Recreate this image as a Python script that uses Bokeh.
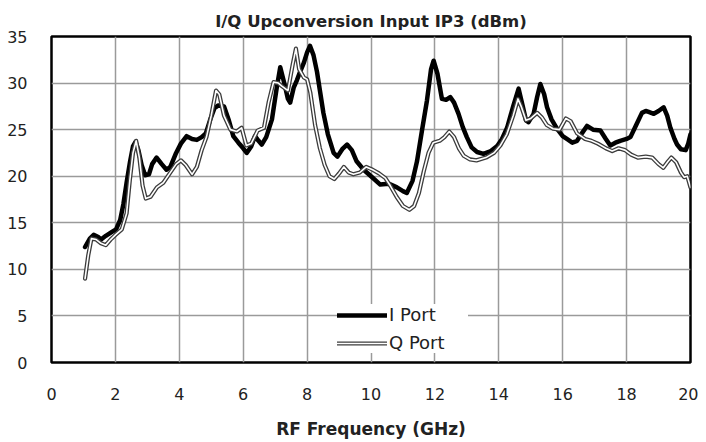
from bokeh.plotting import figure
from bokeh.models import Range1d, FixedTicker, Legend, LegendItem
from bokeh.embed import file_html
from bokeh.resources import INLINE

# ---- data ----
i_freq = [1.05, 1.2, 1.32, 1.45, 1.55, 1.7, 1.88, 2.02, 2.15, 2.25, 2.35, 2.46, 2.55, 2.63, 2.72,
          2.82, 2.93, 3.05, 3.15, 3.29, 3.45, 3.6, 3.72, 3.9, 4.05, 4.23, 4.4, 4.55, 4.7, 4.83,
          4.96, 5.1, 5.22, 5.4, 5.55, 5.69, 5.85, 6.0, 6.11, 6.25, 6.37, 6.48, 6.58, 6.72, 6.9,
          7.05, 7.16, 7.3, 7.4, 7.47, 7.58, 7.68, 7.78, 7.9, 8.0, 8.09, 8.2, 8.31, 8.41, 8.51,
          8.65, 8.83, 8.95, 9.1, 9.25, 9.4, 9.55, 9.77, 10.0, 10.29, 10.55, 10.81, 11.0, 11.12,
          11.3, 11.44, 11.6, 11.75, 11.88, 11.96, 12.08, 12.22, 12.35, 12.48, 12.6, 12.74, 12.87,
          13.0, 13.15, 13.32, 13.52, 13.75, 13.94, 14.1, 14.26, 14.45, 14.62, 14.75, 14.85, 14.93,
          15.09, 15.2, 15.3, 15.42, 15.51, 15.65, 15.82, 16.0, 16.13, 16.3, 16.45, 16.6, 16.76,
          16.95, 17.18, 17.35, 17.49, 17.65, 17.8, 18.0, 18.12, 18.3, 18.48, 18.6, 18.69, 18.85,
          19.0, 19.16, 19.27, 19.37, 19.5, 19.58, 19.7, 19.85, 19.93, 20.0]
i_ip3 = [12.4, 13.3, 13.7, 13.5, 13.2, 13.6, 14.0, 14.3, 15.3, 17.0, 19.3, 21.6, 23.2, 23.7, 22.8,
         21.2, 20.1, 20.2, 21.3, 22.0, 21.3, 20.7, 21.0, 22.5, 23.5, 24.3, 24.0, 23.9, 24.2, 24.6,
         26.0, 27.3, 27.6, 27.5, 26.0, 24.3, 23.6, 23.0, 22.5, 23.2, 24.3, 23.8, 23.4, 24.2, 26.1,
         29.5, 31.7, 29.8, 28.3, 27.9, 29.5, 30.3, 31.2, 32.2, 33.3, 34.0, 33.0, 31.2, 29.0, 26.8,
         24.5, 22.5, 22.1, 22.9, 23.4, 22.8, 21.6, 20.7, 20.0, 19.1, 19.2, 18.8, 18.4, 18.2,
         19.5, 21.6, 25.0, 28.1, 31.5, 32.4, 31.0, 28.3, 28.2, 28.5, 27.9, 26.7, 25.3,
         24.2, 23.1, 22.6, 22.4, 22.7, 23.2, 24.0, 25.2, 27.5, 29.4, 27.5, 26.0, 25.8,
         26.7, 28.5, 29.9, 28.8, 27.4, 26.1, 25.1, 24.3, 24.0, 23.6, 23.8, 24.6, 25.4,
         25.0, 24.9, 24.0, 23.3, 23.6, 23.8, 24.0, 24.2, 25.5, 26.8, 27.0, 26.9, 26.7,
         27.0, 27.4, 26.5, 25.2, 24.0, 23.4, 22.9, 22.8, 23.5, 24.5]

q_freq = [1.05, 1.15, 1.25, 1.4, 1.55, 1.7, 1.85, 2.0, 2.2, 2.35, 2.45, 2.55, 2.65, 2.75, 2.85,
          2.95, 3.1, 3.3, 3.5, 3.7, 3.9, 4.05, 4.2, 4.4, 4.55, 4.7, 4.85, 5.0, 5.15, 5.25, 5.4,
          5.6, 5.8, 5.95, 6.1, 6.25, 6.45, 6.65, 6.8, 6.95, 7.1, 7.2, 7.4, 7.55, 7.65, 7.75, 7.9,
          8.0, 8.1, 8.25, 8.4, 8.55, 8.7, 8.85, 9.0, 9.15, 9.3, 9.45, 9.65, 9.85, 10.05, 10.25,
          10.45, 10.6, 10.8, 11.0, 11.2, 11.35, 11.5, 11.65, 11.8, 11.95, 12.15, 12.3, 12.45,
          12.6, 12.75, 12.9, 13.1, 13.3, 13.6, 13.85, 14.05, 14.25, 14.45, 14.6, 14.7, 14.85,
          15.0, 15.2, 15.35, 15.5, 15.7, 15.9, 16.1, 16.25, 16.45, 16.7, 16.9, 17.1, 17.35,
          17.55, 17.75, 17.95, 18.15, 18.35, 18.6, 18.8, 19.0, 19.15, 19.3, 19.4, 19.55, 19.7,
          19.8, 19.9, 20.0]
q_ip3 = [9.0, 11.5, 13.3, 13.2, 12.8, 12.6, 13.2, 13.7, 14.3, 16.0, 19.5, 22.5, 23.8, 22.0, 19.0,
         17.6, 17.8, 18.8, 19.3, 20.3, 21.3, 21.7, 21.2, 20.2, 21.0, 22.8, 24.2, 26.5, 29.2, 28.8, 26.5,
         25.0, 24.8, 25.2, 23.3, 23.5, 24.9, 25.2, 28.0, 30.1, 30.0, 29.7, 29.2, 32.0, 33.7, 31.5, 30.6,
         30.4, 29.0, 25.5, 23.0, 21.2, 20.0, 19.7, 20.3, 21.0, 20.4, 20.2, 20.4, 21.0, 20.7, 20.3,
         19.8, 19.0, 17.8, 16.8, 16.4, 16.8, 18.2, 20.5, 22.5, 23.6, 23.8, 24.2, 24.8,
         24.2, 23.0, 22.2, 21.8, 21.7, 22.0, 22.5, 23.3, 24.5, 26.5, 28.3, 27.5, 26.0,
         26.2, 26.8, 26.3, 25.5, 25.1, 25.0, 26.2, 25.9, 24.6, 24.0, 23.8, 23.5, 23.0,
         22.7, 23.0, 22.8, 22.3, 22.0, 22.1, 22.0, 21.3, 20.9, 21.6, 22.0, 21.5, 20.4,
         19.9, 20.0, 18.8]

x_ticks = [0, 2, 4, 6, 8, 10, 12, 14, 16, 18, 20]
y_ticks = [0, 5, 10, 15, 20, 25, 30, 35]

title_text = "I/Q Upconversion Input IP3 (dBm)"
x_label = "RF Frequency (GHz)"
series_names = ["I Port", "Q Port"]

FONT = "DejaVu Sans"

p = figure(width=698, height=441, output_backend="svg", toolbar_location=None,
           x_range=Range1d(0, 20), y_range=Range1d(0, 35),
           min_border_left=51, min_border_right=8, min_border_top=36, min_border_bottom=73,
           title=title_text)

p.title.align = "center"
p.title.text_font = FONT
p.title.text_font_style = "bold"
p.title.text_font_size = "16.5px"
p.title.text_color = "#222222"
p.title.offset = -10
p.title.standoff = 12

p.outline_line_color = "black"
p.outline_line_width = 2.5
p.background_fill_color = "white"
p.border_fill_color = "white"

p.xaxis.ticker = FixedTicker(ticks=x_ticks)
p.yaxis.ticker = FixedTicker(ticks=y_ticks)
for ax in (p.xaxis, p.yaxis):
    ax.axis_line_color = None
    ax.major_tick_line_color = None
    ax.minor_tick_line_color = None
    ax.major_label_text_font = FONT
    ax.major_label_text_font_size = "16px"
    ax.major_label_text_color = "#222222"
p.xaxis.major_label_standoff = 19
p.yaxis.major_label_standoff = 18
p.xaxis.axis_label = x_label
p.xaxis.axis_label_text_font = FONT
p.xaxis.axis_label_text_font_style = "bold"
p.xaxis.axis_label_text_font_size = "17px"
p.xaxis.axis_label_text_color = "#222222"
p.xaxis.axis_label_standoff = 16

p.xgrid.grid_line_color = "#9a9a9a"
p.ygrid.grid_line_color = "#9a9a9a"
p.xgrid.grid_line_width = 1.5
p.ygrid.grid_line_width = 1.5

r_i = p.line(i_freq, i_ip3, line_color="black", line_width=4.5, line_join="round", line_cap="round")
r_q_out = p.line(q_freq, q_ip3, line_color="#3c3c3c", line_width=4.2, line_join="round", line_cap="round")
r_q_in = p.line(q_freq, q_ip3, line_color="white", line_width=1.6, line_join="round", line_cap="round")

legend = Legend(items=[LegendItem(label=series_names[0], renderers=[r_i]),
                       LegendItem(label=series_names[1], renderers=[r_q_out, r_q_in])],
                location=(286, 9))
legend.background_fill_color = "white"
legend.background_fill_alpha = 1.0
legend.border_line_color = None
legend.padding = 8
legend.margin = 0
legend.spacing = 7
legend.glyph_width = 50
legend.glyph_height = 16
legend.label_standoff = 2
legend.label_width = 79
legend.label_text_font = FONT
legend.label_text_font_size = "18px"
legend.label_text_color = "#222222"
p.add_layout(legend, "center")

open("out.html", "w").write(file_html(p, INLINE))
